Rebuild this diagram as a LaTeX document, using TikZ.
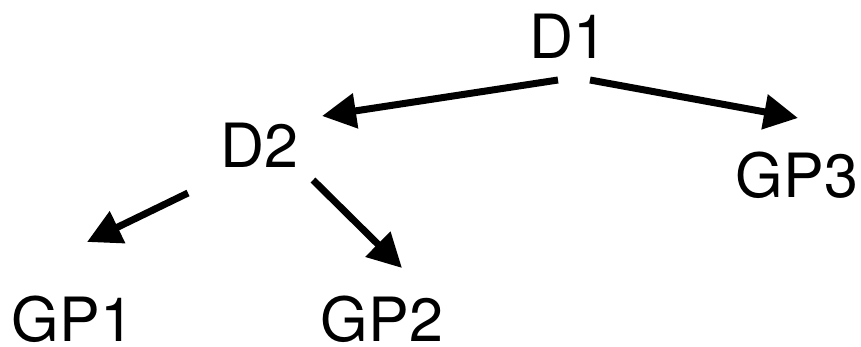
\documentclass[tikz,border=0pt]{standalone}
\usepackage{fontspec}
\setmainfont{TeX Gyre Heros}
\usetikzlibrary{arrows.meta}

\begin{document}
\begin{tikzpicture}[x=1pt,y=-1pt,
  label/.style={anchor=base,inner sep=0pt,font=\fontsize{61}{61}\selectfont},
  link/.style={line width=7pt,line cap=butt,-{Triangle[length=34pt,width=34pt]}}]
  \useasboundingbox (0,0) rectangle (861,346);

  % tree labels (placed on their baselines)
  \node[label] (d1)  at (568,58)  {D1};
  \node[label] (d2)  at (259,167) {D2};
  \node[label] (gp3) at (797,197) {GP3};
  \node[label] (gp1) at (73,341)  {GP1};
  \node[label] (gp2) at (382,341) {GP2};

  % arrow ends, kept clear of the labels
  \coordinate (d1-left)   at (558,80);
  \coordinate (d1-right)  at (590,80);
  \coordinate (d2-top)    at (322,116);
  \coordinate (gp3-top)   at (798,118);
  \coordinate (d2-left)   at (188,193);
  \coordinate (d2-right)  at (313,180);
  \coordinate (gp1-top)   at (87,242);
  \coordinate (gp2-top)   at (402,268);

  \draw[link] (d1-left)  -- (d2-top);
  \draw[link] (d1-right) -- (gp3-top);
  \draw[link] (d2-left)  -- (gp1-top);
  \draw[link] (d2-right) -- (gp2-top);
\end{tikzpicture}
\end{document}
